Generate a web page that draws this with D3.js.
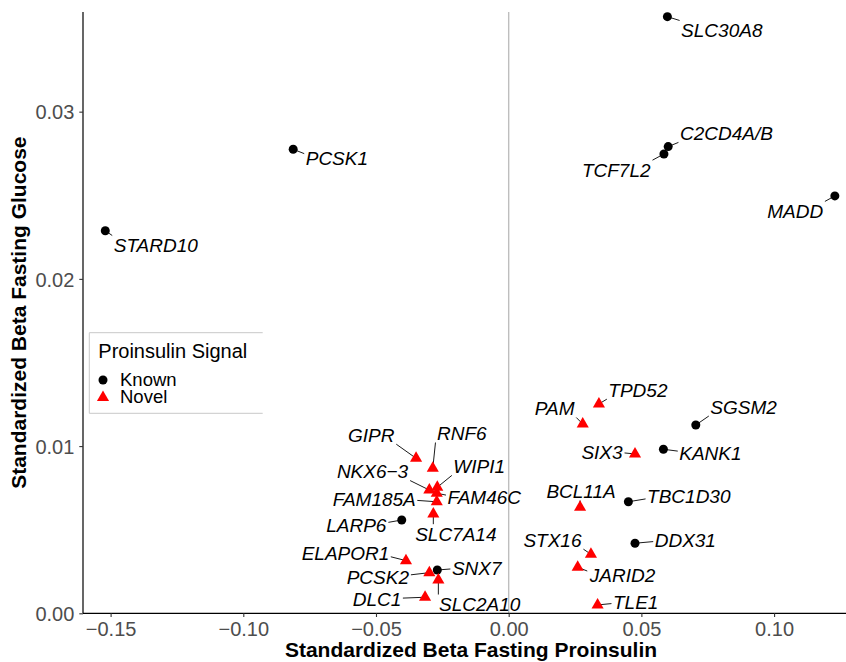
<!DOCTYPE html>
<html>
<head>
<meta charset="utf-8">
<script src="https://cdn.jsdelivr.net/npm/d3@7"></script>
<style>
  html, body { margin: 0; padding: 0; background: #fff; }
  svg { display: block; font-family: "Liberation Sans", Arial, Helvetica, sans-serif; }
</style>
</head>
<body>
<svg id="chart" width="846" height="662"></svg>
<script>
// ---------------- DATA ----------------
const genes = [
  "SLC30A8","C2CD4A/B","TCF7L2","MADD","PCSK1","STARD10","SGSM2","KANK1",
  "TBC1D30","DDX31","LARP6","SNX7",
  "TPD52","PAM","SIX3","BCL11A","STX16","JARID2","TLE1","GIPR","RNF6",
  "NKX6\u22123","WIPI1","FAM46C","FAM185A","SLC7A14","ELAPOR1","PCSK2","SLC2A10","DLC1"
];
const betaProinsulin = [
  0.0598, 0.0601, 0.0585, 0.1229, -0.0812, -0.1520, 0.0705, 0.0583,
  0.0451, 0.0476, -0.0403, -0.0269,
  0.0340, 0.0279, 0.0476, 0.0269, 0.0310, 0.0260, 0.0335, -0.0349, -0.0286,
  -0.0299, -0.0269, -0.0271, -0.0271, -0.0284, -0.0387, -0.0299, -0.0265, -0.0315
];
const betaGlucose = [
  0.03568, 0.02791, 0.02747, 0.02496, 0.02775, 0.02288, 0.01126, 0.00981,
  0.00667, 0.00419, 0.00558, 0.00259,
  0.01252, 0.01132, 0.00953, 0.00634, 0.00353, 0.00275, 0.00050, 0.00927, 0.00867,
  0.00737, 0.00754, 0.00718, 0.00667, 0.00594, 0.00315, 0.00243, 0.00199, 0.00096
];
const signal = [
  "Known","Known","Known","Known","Known","Known","Known","Known",
  "Known","Known","Known","Known",
  "Novel","Novel","Novel","Novel","Novel","Novel","Novel","Novel","Novel",
  "Novel","Novel","Novel","Novel","Novel","Novel","Novel","Novel","Novel"
];
const signalLevels = ["Known", "Novel"];
const xTicks = [-0.15, -0.10, -0.05, 0.00, 0.05, 0.10];
const yTicks = [0.00, 0.01, 0.02, 0.03];
const xDomain = [-0.1604, 0.1271];
const yDomain = [0, 0.03596];
const xTitle = "Standardized Beta Fasting Proinsulin";
const yTitle = "Standardized Beta Fasting Glucose";
const legendTitle = "Proinsulin Signal";

// label placement (pixel offsets of label centre/baseline from point; repel result)
const labelOffset = {
  "SLC30A8": [54.4, 20.3], "C2CD4A/B": [58.2, -6.7], "TCF7L2": [-47.7, 22.7],
  "MADD": [-39.7, 22], "PCSK1": [43.7, 15.7], "STARD10": [50.5, 21.3],
  "SGSM2": [47.8, -11.5], "KANK1": [47, 10.7], "TBC1D30": [60.4, 1.3],
  "DDX31": [50.3, 3.7], "LARP6": [-45.4, 11.7], "SNX7": [39.4, 5],
  "TPD52": [39, -7.3], "PAM": [-28, -9], "SIX3": [-33, 5], "BCL11A": [1, -9.3],
  "STX16": [-38.5, -7.6], "JARID2": [44.8, 14.4], "TLE1": [38.1, 4.3],
  "GIPR": [-44.8, -16.6], "RNF6": [29, -28.3], "NKX6\u22123": [-56.8, -12],
  "WIPI1": [41.9, -14.3], "FAM46C": [47.5, 10.7], "FAM185A": [-62.5, 4.3],
  "SLC7A14": [22.5, 26.7], "ELAPOR1": [-60.5, -0.7], "PCSK2": [-51.5, 11.3],
  "SLC2A10": [41.4, 31], "DLC1": [-48, 8.7]
};

// ---------------- CHART ----------------
const svg = d3.select("#chart");
const W = 846, H = 662;
const plot = { left: 83, right: 846, top: 12, bottom: 613.3 };

const x = d3.scaleLinear().domain(xDomain).range([plot.left, plot.right]);
const y = d3.scaleLinear().domain(yDomain).range([plot.bottom, plot.top]);
const color = d3.scaleOrdinal().domain(signalLevels).range(["#000000", "#FF0000"]);
const shape = d3.scaleOrdinal().domain(signalLevels).range([d3.symbolCircle, "tri"]);

const R = 4.5;
function markerPath(kind) {
  if (kind === "Known") {
    return d3.symbol().type(d3.symbolCircle).size(Math.PI * R * R)();
  }
  // R pch 17 triangle, centroid at the data point
  const TRC0 = Math.sqrt(4 * Math.PI / (3 * Math.sqrt(3)));
  const r = TRC0 * R, xc = TRC0 * Math.sqrt(3) / 2 * R, yc = TRC0 / 2 * R;
  return `M0,${-r}L${xc},${yc}L${-xc},${yc}Z`;
}

const data = genes.map((g, i) => ({ gene: g, bx: betaProinsulin[i], by: betaGlucose[i], sig: signal[i] }));

// vertical reference line at x = 0
svg.append("line")
  .attr("x1", x(0)).attr("x2", x(0))
  .attr("y1", plot.top).attr("y2", plot.bottom)
  .attr("stroke", "#BEBEBE").attr("stroke-width", 1.4);

// axes
const xAxis = svg.append("g")
  .attr("transform", `translate(0,${plot.bottom})`)
  .call(d3.axisBottom(x).tickValues(xTicks).tickSize(3.7).tickPadding(5)
    .tickFormat(d => d3.format(".2f")(d).replace("-", "\u2212")));
const yAxis = svg.append("g")
  .attr("transform", `translate(${plot.left},0)`)
  .call(d3.axisLeft(y).tickValues(yTicks).tickSize(3.7).tickPadding(5)
    .tickFormat(d3.format(".2f")));

[xAxis, yAxis].forEach(g => {
  g.select(".domain").attr("stroke", "#000").attr("stroke-width", 1.2);
  g.selectAll(".tick line").attr("stroke", "#333333").attr("stroke-width", 1.1);
  g.selectAll(".tick text").attr("fill", "#4D4D4D")
    .style("font-size", "20px").style("font-family", "'Liberation Sans', Arial, sans-serif");
});
// keep axis line extents exactly at the panel
xAxis.select(".domain").attr("d", `M${plot.left},0H${plot.right}`);
yAxis.select(".domain").attr("d", `M0,${plot.bottom}V${plot.top}`);
xAxis.selectAll(".tick text").attr("dy", "0.71em");
yAxis.selectAll(".tick text").attr("dy", "0.36em");

// axis titles
svg.append("text")
  .attr("x", 471).attr("y", 657)
  .attr("text-anchor", "middle")
  .style("font-size", "21px").style("font-weight", "bold")
  .text(xTitle);
svg.append("text")
  .attr("transform", `translate(26,${(plot.top + plot.bottom) / 2}) rotate(-90)`)
  .attr("text-anchor", "middle")
  .style("font-size", "21px").style("font-weight", "bold")
  .text(yTitle);

// labels first (to measure), segments, then points
const segG = svg.append("g");
const ptG = svg.append("g");
const lblG = svg.append("g");

const labels = lblG.selectAll("text").data(data).join("text")
  .attr("x", d => x(d.bx) + labelOffset[d.gene][0])
  .attr("y", d => y(d.by) + labelOffset[d.gene][1])
  .attr("text-anchor", "middle")
  .style("font-size", "19px").style("font-style", "italic")
  .attr("fill", "#000")
  .text(d => d.gene);

labels.each(function(d) {
  const b = this.getBBox();
  const pad = 1.5;
  const x1 = b.x - pad, x2 = b.x + b.width + pad;
  const y1 = b.y + 2 - pad, y2 = b.y + b.height - 3 + pad;
  const px = x(d.bx), py = y(d.by);
  let ex = Math.max(x1, Math.min(px, x2));
  let ey = Math.max(y1, Math.min(py, y2));
  const insideX = px >= x1 && px <= x2, insideY = py >= y1 && py <= y2;
  if (!insideX && insideY) ey = (y1 + y2) / 2 + (py - (y1 + y2) / 2) * 0.5;
  if (insideX && !insideY) ex = px;
  const len = Math.hypot(ex - px, ey - py);
  if (len > 2) {
    segG.append("line")
      .attr("x1", px).attr("y1", py).attr("x2", ex).attr("y2", ey)
      .attr("stroke", "#000").attr("stroke-width", 0.9);
  }
});

ptG.selectAll("path").data(data).join("path")
  .attr("transform", d => `translate(${x(d.bx)},${y(d.by)})`)
  .attr("d", d => markerPath(d.sig))
  .attr("fill", d => color(d.sig));

// legend
const lg = svg.append("g");
const lx1 = 89.3, ly1 = 332.7, lx2 = 262.7, ly2 = 413.3;
lg.append("rect").attr("x", lx1).attr("y", ly1).attr("width", lx2 - lx1).attr("height", ly2 - ly1)
  .attr("fill", "#fff");
lg.append("path")
  .attr("d", `M${lx2},${ly1}H${lx1}V${ly2}H${lx2}`)
  .attr("fill", "none").attr("stroke", "#C8C8C8").attr("stroke-width", 1);
lg.append("text").attr("x", 98.3).attr("y", 357.5)
  .style("font-size", "20px").text(legendTitle);
const keyY = d3.scalePoint().domain(signalLevels).range([380, 397.5]);
signalLevels.forEach(s => {
  lg.append("path")
    .attr("transform", `translate(103,${keyY(s)})`)
    .attr("d", markerPath(s))
    .attr("fill", color(s));
  lg.append("text").attr("x", 120).attr("y", keyY(s) + 5.8)
    .style("font-size", "18.5px").text(s);
});
</script>
</body>
</html>
